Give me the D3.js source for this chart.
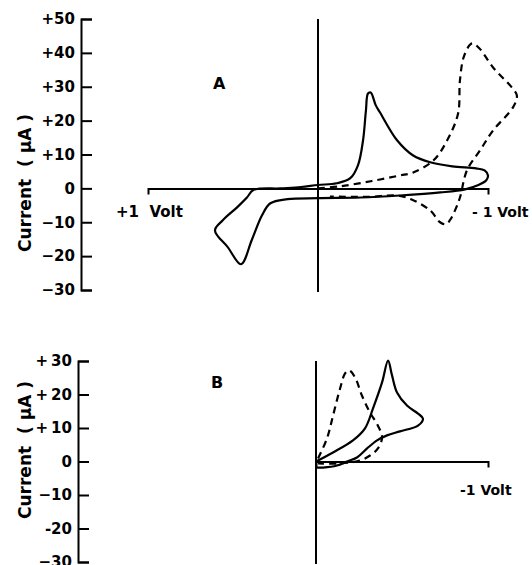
<!DOCTYPE html>
<html>
<head>
<meta charset="utf-8">
<script src="https://cdn.jsdelivr.net/npm/d3@7"></script>
<style>
  body { margin: 0; background: #fff; }
  text { font-family: "DejaVu Sans", sans-serif; font-weight: bold; fill: #000; }
</style>
</head>
<body>
<div id="chart"></div>
<script>
// potential (V) vs current (uA)
const aSolid = [
    [0.38, -0.5], [0.22, 0.0], [0.10, 0.4], [0.0, 1.0], [-0.11, 1.5], [-0.19, 3.0],
    [-0.235, 6.8], [-0.265, 14.2], [-0.282, 23.0], [-0.294, 28.0], [-0.31, 28.3],
    [-0.34, 24.5], [-0.365, 22.4], [-0.465, 14.2], [-0.56, 9.7], [-0.66, 7.7],
    [-0.79, 6.5], [-0.93, 5.9], [-0.98, 5.3], [-1.0, 3.8], [-0.99, 2.4], [-0.94, 0.9],
    [-0.865, -0.3], [-0.72, -1.2], [-0.48, -2.1], [-0.25, -2.7], [0.0, -2.9],
    [0.18, -3.2], [0.28, -4.4], [0.33, -8.0], [0.39, -15.3], [0.453, -22.4],
    [0.53, -17.4], [0.606, -12.4], [0.56, -9.4], [0.476, -5.6], [0.418, -2.7]
];
const aDashed = [
    [0.0, 0.0], [-0.13, 0.6], [-0.31, 2.1], [-0.48, 3.8], [-0.56, 4.7], [-0.68, 8.3],
    [-0.76, 14.2], [-0.824, 22.1], [-0.835, 31.9], [-0.86, 39.2], [-0.906, 42.8],
    [-0.95, 41.3], [-1.03, 35.7], [-1.14, 29.8], [-1.17, 27.4], [-1.147, 23.9],
    [-1.03, 17.1], [-0.953, 11.2], [-0.876, 5.3], [-0.835, -2.7], [-0.806, -6.5],
    [-0.776, -9.4], [-0.753, -10.6], [-0.718, -10.0], [-0.66, -6.5], [-0.56, -3.5],
    [-0.465, -2.1], [-0.3, -2.5], [-0.07, -2.4]
];
const bSolid = [
    [0.0, 0.0], [-0.099, 2.7], [-0.215, 6.3], [-0.285, 9.9], [-0.331, 15.8],
    [-0.384, 23.6], [-0.419, 30.1], [-0.442, 25.7], [-0.471, 20.6], [-0.529, 16.7],
    [-0.593, 14.3], [-0.622, 12.8], [-0.593, 10.7], [-0.488, 9.0], [-0.413, 7.8],
    [-0.355, 6.3], [-0.297, 3.9], [-0.238, 1.2], [-0.18, 0.0], [-0.122, -1.2],
    [-0.041, -1.8], [0.0, -1.8]
];
const bDashed = [
    [-0.012, 0.9], [-0.064, 6.9], [-0.099, 13.7], [-0.14, 21.8], [-0.169, 26.3],
    [-0.192, 27.2], [-0.227, 25.1], [-0.267, 19.7], [-0.314, 14.6], [-0.36, 10.7],
    [-0.384, 7.2], [-0.36, 3.9], [-0.314, 1.8], [-0.256, 0.3], [-0.14, -0.6], [-0.012, -0.6]
];

const ticksA = [-30, -20, -10, 0, 10, 20, 30, 40, 50];
const tickLabelsA = ["\u221230", "\u221220", "\u221210", "0", "+10", "+20", "+30", "+40", "+50"];
const ticksB = [-30, -20, -10, 0, 10, 20, 30];
const tickLabelsB = ["\u221230", "-20", "\u221210", "0", "+\u200910", "+\u200920", "+\u200930"];

const width = 532, height = 565;

const svg = d3.select("#chart")
    .append("svg")
    .attr("width", width)
    .attr("height", height);

function panel(opts) {
    let x = d3.scaleLinear().domain(opts.eDomain).range(opts.xRange);
    let y = d3.scaleLinear().domain(opts.iDomain).range(opts.yRange);
    let g = svg.append("g");

    // current axis, ticks pointing right, labels on the left
    let yAxis = d3.axisLeft(y)
        .tickValues(opts.ticks)
        .tickSize(-11)
        .tickPadding(6)
        .tickFormat((d, i) => opts.labels[i]);
    let ax = g.append("g")
        .attr("transform", `translate(${opts.axisX}, 0)`)
        .call(yAxis);
    ax.selectAll("path, line").attr("stroke", "#000").attr("stroke-width", 2);
    ax.selectAll("text")
        .attr("font-size", 15)
        .style("font-family", "DejaVu Sans")
        .style("font-weight", "bold");

    // potential axis along zero current
    let xAxis = d3.axisBottom(x).tickValues([]).tickSizeOuter(6);
    let zx = g.append("g")
        .attr("transform", `translate(0, ${y(0)})`)
        .call(xAxis);
    zx.selectAll("path").attr("stroke", "#000").attr("stroke-width", 2);

    // zero volt line
    g.append("line")
        .attr("x1", x(0)).attr("x2", x(0))
        .attr("y1", y.range()[1]).attr("y2", y.range()[0] + 2)
        .attr("stroke", "#000").attr("stroke-width", 2);

    let line = d3.line()
        .x(d => x(d[0]))
        .y(d => y(d[1]));

    opts.curves.forEach(c => {
        g.append("path")
            .datum(c.data)
            .attr("d", line.curve(c.closed ? d3.curveCatmullRomClosed.alpha(0.5) : d3.curveCatmullRom.alpha(0.5)))
            .attr("fill", "none")
            .attr("stroke", "#000")
            .attr("stroke-width", 2.2)
            .attr("stroke-linejoin", "round")
            .attr("stroke-dasharray", c.dashed ? "7,5" : null);
    });

    g.append("text")
        .attr("transform", `translate(${opts.labelX}, ${opts.labelY}) rotate(-90)`)
        .attr("text-anchor", "middle")
        .attr("font-size", 17)
        .style("white-space", "pre")
        .text("Current  ( \u03bcA )");

    g.append("text")
        .attr("x", opts.letterX).attr("y", opts.letterY)
        .attr("font-size", 16)
        .text(opts.letter);

    opts.volts.forEach(v => {
        g.append("text")
            .attr("x", v.x).attr("y", v.y)
            .attr("font-size", v.size)
            .style("white-space", "pre")
            .text(v.text);
    });
    return { x, y };
}

panel({
    eDomain: [1, -1], xRange: [148, 488],
    iDomain: [-30, 50], yRange: [290, 19],
    axisX: 81, ticks: ticksA, labels: tickLabelsA,
    curves: [{ data: aSolid, closed: true }, { data: aDashed, dashed: true }],
    labelX: 31, labelY: 183,
    letter: "A", letterX: 213, letterY: 89,
    volts: [{ text: "+1  Volt", x: 116, y: 217, size: 15 }, { text: "- 1 Volt", x: 472, y: 217, size: 14 }]
});

panel({
    eDomain: [0, -1], xRange: [316, 488],
    iDomain: [-30, 30], yRange: [562, 361],
    axisX: 78, ticks: ticksB, labels: tickLabelsB,
    curves: [{ data: bSolid }, { data: bDashed, dashed: true }],
    labelX: 31, labelY: 450,
    letter: "B", letterX: 211, letterY: 388,
    volts: [{ text: "-1 Volt", x: 460, y: 495, size: 14 }]
});
</script>
</body>
</html>
